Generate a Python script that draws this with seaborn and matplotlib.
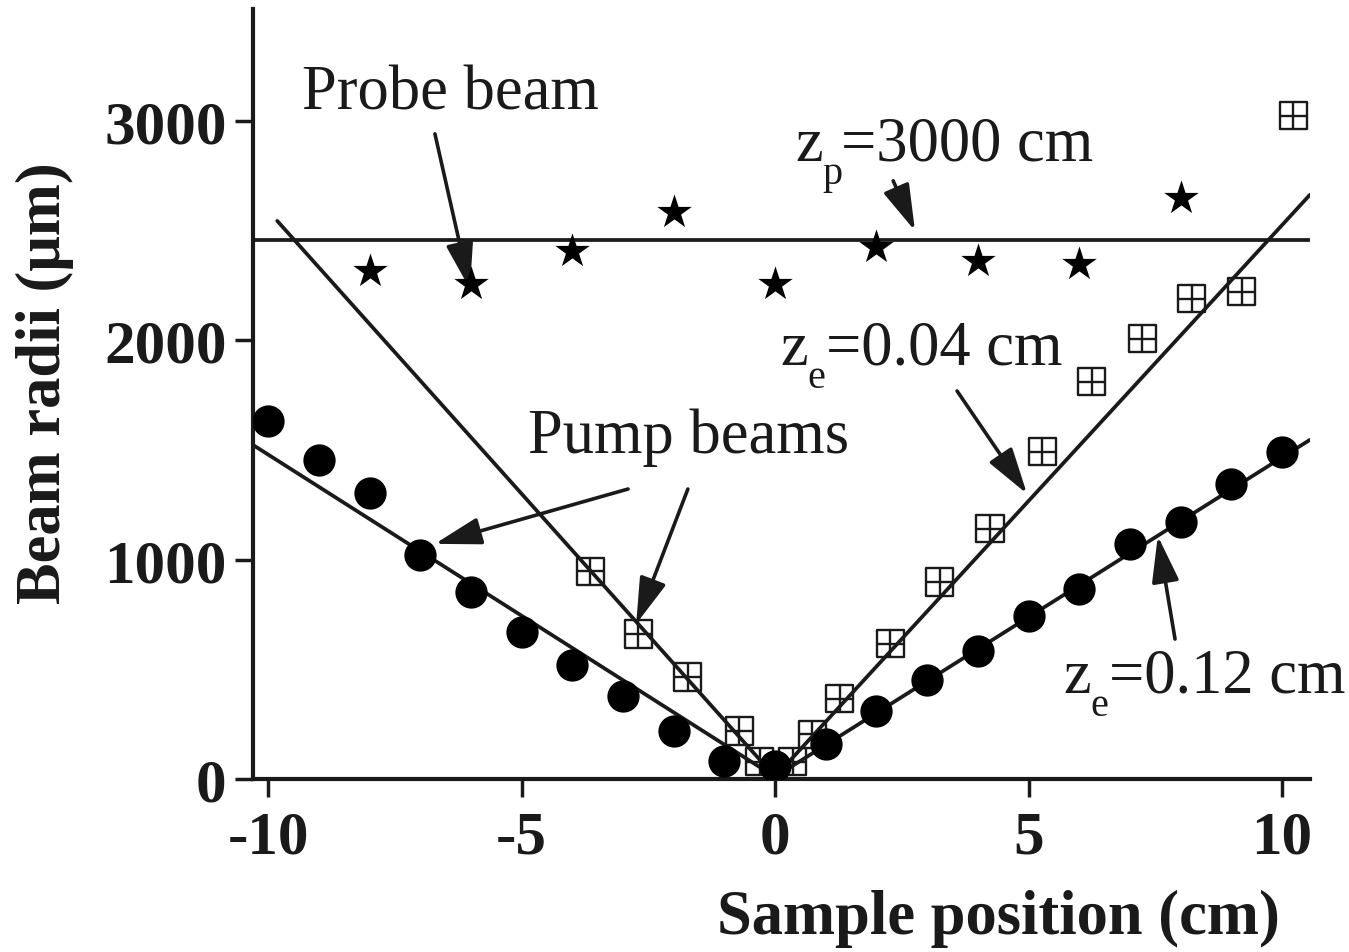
import numpy as np
import pandas as pd
import seaborn as sns
import matplotlib
matplotlib.use("Agg")
import matplotlib.pyplot as plt
from matplotlib.path import Path

# ---------------- data ----------------
probe_x = [-8, -6, -4, -2, 0, 2, 4, 6, 8]
probe_y = [2316, 2257, 2408, 2585, 2257, 2426, 2362, 2348, 2649]
probe_fit_y = 2458

pump012_x = [-10, -9, -8, -7, -6, -5, -4, -3, -2, -1, 0, 1, 2, 3, 4, 5, 6, 7, 8, 9, 10]
pump012_y = [1632, 1455, 1304, 1021, 853, 670, 520, 378, 219, 82, 59,
             160, 310, 451, 584, 743, 866, 1072, 1172, 1345, 1491]

pump004_x = [-3.65, -2.70, -1.72, -0.71, -0.3, 0.35, 0.73, 1.28, 2.27, 3.25,
             4.24, 5.27, 6.25, 7.24, 8.22, 9.21, 10.22]
pump004_y = [948, 661, 465, 219, 78, 78, 205, 365, 616, 898,
             1140, 1491, 1810, 2006, 2189, 2221, 3023]

fit012_x = [-10.3, 0.0, 10.55]
fit012_y = [1523, 10, 1546]
fit004_x = [-9.82, 0.0, 10.55]
fit004_y = [2544, 10, 2663]

x_ticks = [-10, -5, 0, 5, 10]
y_ticks = [0, 1000, 2000, 3000]

# ---------------- style ----------------
sns.set_theme(style="ticks")
plt.rcParams['font.family'] = ['Liberation Serif', 'DejaVu Serif']

INK = '#1a1a1a'
fig = plt.figure(figsize=(13.49, 9.53), dpi=100)
ax = fig.add_axes([0.1875, 0.1815, 0.7835, 0.808])

# fit lines
sns.lineplot(x=fit012_x, y=fit012_y, ax=ax, color=INK, lw=2.7, sort=False, zorder=2)
sns.lineplot(x=fit004_x, y=fit004_y, ax=ax, color=INK, lw=2.7, sort=False, zorder=2)
ax.axhline(probe_fit_y, color=INK, lw=2.7, zorder=2)

# square-with-cross marker
verts = [(-1, -1), (1, -1), (1, 1), (-1, 1), (-1, -1),
         (0, -1), (0, 1), (-1, 0), (1, 0)]
codes = [Path.MOVETO, Path.LINETO, Path.LINETO, Path.LINETO, Path.CLOSEPOLY,
         Path.MOVETO, Path.LINETO, Path.MOVETO, Path.LINETO]
box_marker = Path(verts, codes)

sns.scatterplot(x=pump004_x, y=pump004_y, ax=ax, marker=box_marker, s=380,
                facecolor='none', edgecolor=INK, linewidth=1.7, zorder=3)
sns.scatterplot(x=pump012_x, y=pump012_y, ax=ax, marker='o', s=540,
                color='black', edgecolor='black', linewidth=0, zorder=4)
sns.scatterplot(x=probe_x, y=probe_y, ax=ax, marker='*', s=680,
                color='black', edgecolor='black', linewidth=0, zorder=4)

# axes
ax.set_xlim(-10.3, 10.55)
ax.set_ylim(0, 3510)
ax.set_xticks(x_ticks)
ax.set_yticks(y_ticks)
ax.set_xticklabels([str(v) for v in x_ticks], fontsize=44, fontweight='bold')
ax.set_yticklabels([str(v) for v in y_ticks], fontsize=44, fontweight='bold')
for s in ['top', 'right']:
    ax.spines[s].set_visible(False)
for s in ['left', 'bottom']:
    ax.spines[s].set_linewidth(3)
    ax.spines[s].set_color(INK)
ax.tick_params(direction='out', length=13, width=2.5, color=INK,
               labelcolor=INK)
ax.tick_params(axis='x', pad=9)
ax.tick_params(axis='y', pad=6)

ax.set_xlabel('Sample position (cm)', fontsize=45, fontweight='bold', color=INK)
ax.set_ylabel('Beam radii (μm)', fontsize=45, fontweight='bold', color=INK)
ax.xaxis.set_label_coords(0.705, -0.143)
ax.yaxis.set_label_coords(-0.169, 0.516)

# annotations
tk = dict(fontsize=45, color=INK)
ap = dict(arrowstyle='-|>,head_length=0.95,head_width=0.28', lw=2.6,
          color=INK, mutation_scale=30, shrinkA=0, shrinkB=0)


def sub_label(x, y, main, sub, rest):
    ax.annotate(main, xy=(x, y), xytext=(0, 0), textcoords='offset pixels',
                ha='left', va='baseline', **tk)
    ax.annotate(sub, xy=(x, y), xytext=(27, -23), textcoords='offset pixels',
                ha='left', va='baseline', fontsize=29, color=INK)
    ax.annotate(rest, xy=(x, y), xytext=(46, 0), textcoords='offset pixels',
                ha='left', va='baseline', **tk)


ax.text(-6.41, 3124, 'Probe beam', ha='center', va='center', **tk)
ax.annotate('', xy=(-6.02, 2234), xytext=(-6.71, 2941), arrowprops=ap)

sub_label(0.394, 2823, 'z', 'p', '=3000 cm')
ax.annotate('', xy=(2.76, 2499), xytext=(2.33, 2727), arrowprops=ap)

sub_label(0.099, 1892, 'z', 'e', '=0.04 cm')
ax.annotate('', xy=(4.97, 1300), xytext=(3.59, 1769), arrowprops=ap)

ax.text(-1.70, 1560, 'Pump beams', ha='center', va='center', **tk)
ax.annotate('', xy=(-6.71, 1072), xytext=(-2.90, 1322), arrowprops=ap)
ax.annotate('', xy=(-2.74, 707), xytext=(-1.72, 1322), arrowprops=ap)

sub_label(5.68, 397, 'z', 'e', '=0.12 cm')
ax.annotate('', xy=(7.55, 1108), xytext=(7.89, 638), arrowprops=ap)

fig.savefig('out.png', dpi=100)
